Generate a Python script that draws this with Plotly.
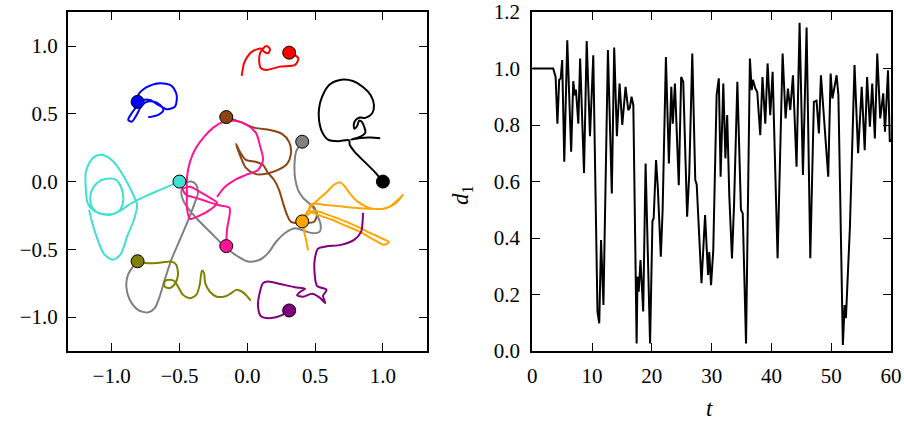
import plotly.graph_objects as go

# ---------------- left panel: particle trajectories (x, y) ----------------
traj_red = [(0.31, 0.954), (0.376, 0.91), (0.352, 0.861), (0.241, 0.848), (0.143, 0.824), (0.101, 0.836),
            (0.088, 0.885), (0.094, 0.947), (0.118, 0.984), (0.143, 1.0), (0.167, 0.976), (0.155, 0.947),
            (0.123, 0.959), (0.105, 0.98), (0.07, 0.975), (0.03, 0.955), (0.0, 0.92), (-0.025, 0.87),
            (-0.035, 0.82), (-0.041, 0.78)]
traj_blue = [(-0.811, 0.59), (-0.804, 0.639), (-0.742, 0.696), (-0.644, 0.726), (-0.558, 0.706), (-0.521, 0.639),
             (-0.533, 0.553), (-0.594, 0.534), (-0.656, 0.566), (-0.718, 0.602), (-0.767, 0.602), (-0.804, 0.566),
             (-0.853, 0.504), (-0.878, 0.455), (-0.853, 0.442), (-0.816, 0.492), (-0.791, 0.541), (-0.754, 0.583),
             (-0.693, 0.59), (-0.644, 0.566), (-0.619, 0.529), (-0.656, 0.492), (-0.73, 0.475)]
traj_black = [(1.0, 0.0), (0.939, 0.072), (0.865, 0.145), (0.792, 0.219), (0.755, 0.273), (0.75, 0.305),
              (0.669, 0.298), (0.595, 0.31), (0.551, 0.367), (0.529, 0.453), (0.529, 0.539), (0.551, 0.625),
              (0.607, 0.716), (0.693, 0.752), (0.779, 0.742), (0.853, 0.698), (0.91, 0.637), (0.934, 0.563),
              (0.92, 0.502), (0.87, 0.47), (0.83, 0.472), (0.80, 0.455), (0.785, 0.42), (0.79, 0.39),
              (0.81, 0.41), (0.825, 0.45), (0.845, 0.44), (0.87, 0.36), (0.82, 0.325), (0.765, 0.31),
              (0.83, 0.322), (0.91, 0.325), (0.98, 0.32)]
traj_brown = [(-0.157, 0.477), (-0.054, 0.44), (0.057, 0.396), (0.167, 0.381), (0.256, 0.352), (0.308, 0.293),
              (0.322, 0.212), (0.293, 0.131), (0.226, 0.086), (0.138, 0.057), (0.057, 0.057), (-0.01, 0.101),
              (-0.046, 0.175), (-0.069, 0.234), (-0.083, 0.278), (-0.054, 0.219), (-0.01, 0.16), (0.064, 0.145),
              (0.116, 0.123), (0.153, 0.064), (0.197, 0.013), (0.234, -0.061), (0.263, -0.157), (0.293, -0.246),
              (0.322, -0.297), (0.411, -0.305), (0.492, -0.297), (0.514, -0.238), (0.485, -0.179)]
traj_gray = [(0.403, 0.293), (0.359, 0.219), (0.348, 0.123), (0.352, 0.027), (0.374, -0.061), (0.411, -0.12),
             (0.46, -0.164), (0.497, -0.209), (0.521, -0.26), (0.541, -0.319), (0.534, -0.369), (0.484, -0.381),
             (0.435, -0.369), (0.35, -0.344), (0.276, -0.381), (0.214, -0.442), (0.153, -0.528), (0.091, -0.577),
             (0.005, -0.59), (-0.069, -0.553), (-0.167, -0.479), (-0.265, -0.381), (-0.364, -0.282),
             (-0.437, -0.196), (-0.474, -0.135), (-0.487, -0.074), (-0.462, -0.012), (-0.413, 0.0),
             (-0.376, -0.024), (-0.364, -0.086), (-0.388, -0.159), (-0.425, -0.258), (-0.487, -0.406),
             (-0.56, -0.577), (-0.609, -0.725), (-0.646, -0.848), (-0.683, -0.934), (-0.732, -0.966),
             (-0.806, -0.946), (-0.867, -0.872), (-0.892, -0.774), (-0.88, -0.688), (-0.843, -0.627),
             (-0.819, -0.59)]
traj_turquoise = [(-0.501, 0.0), (-0.642, -0.061), (-0.754, -0.109), (-0.85, -0.157), (-0.939, -0.216),
                  (-1.013, -0.246), (-1.101, -0.231), (-1.153, -0.172), (-1.153, -0.083), (-1.108, -0.01),
                  (-1.042, 0.02), (-0.968, 0.013), (-0.924, -0.061), (-0.917, -0.157), (-0.953, -0.223),
                  (-1.027, -0.242), (-1.116, -0.223), (-1.175, -0.164), (-1.19, -0.061), (-1.19, 0.072),
                  (-1.145, 0.167), (-1.086, 0.197), (-1.02, 0.175), (-0.961, 0.116), (-0.909, 0.035),
                  (-0.858, -0.061), (-0.813, -0.172), (-0.836, -0.282), (-0.887, -0.408), (-0.932, -0.533),
                  (-0.99, -0.577), (-1.057, -0.533), (-1.123, -0.371), (-1.167, -0.209)]
traj_pink = [(-0.155, -0.476), (-0.15, -0.356), (-0.131, -0.194), (-0.201, -0.176), (-0.29, -0.15),
             (-0.378, -0.12), (-0.452, -0.098), (-0.474, -0.054), (-0.423, -0.039), (-0.349, -0.076),
             (-0.275, -0.12), (-0.223, -0.157), (-0.275, -0.209), (-0.356, -0.253), (-0.423, -0.275),
             (-0.445, -0.194), (-0.445, -0.098), (-0.445, 0.027), (-0.423, 0.145), (-0.378, 0.249),
             (-0.319, 0.33), (-0.253, 0.396), (-0.179, 0.44), (-0.091, 0.448), (-0.002, 0.418), (0.064, 0.359),
             (0.094, 0.263), (0.116, 0.16), (0.079, 0.086), (-0.01, 0.049), (-0.091, 0.013), (-0.164, -0.039),
             (-0.223, -0.113)]
traj_orange = [(0.403, -0.29), (0.462, -0.194), (0.521, -0.135), (0.58, -0.083), (0.639, -0.024), (0.684, -0.006),
               (0.721, -0.039), (0.758, -0.091), (0.816, -0.15), (0.89, -0.19), (0.964, -0.205), (1.045, -0.187),
               (1.111, -0.135), (1.148, -0.098), (1.097, -0.157), (1.016, -0.198), (0.905, -0.201),
               (0.794, -0.194), (0.684, -0.183), (0.573, -0.172), (0.477, -0.164), (0.455, -0.209),
               (0.521, -0.246), (0.625, -0.282), (0.728, -0.327), (0.831, -0.371), (0.934, -0.43),
               (1.008, -0.467), (1.045, -0.445), (1.008, -0.426), (0.92, -0.386), (0.816, -0.334),
               (0.713, -0.29), (0.595, -0.246), (0.492, -0.216), (0.426, -0.268), (0.418, -0.356),
               (0.433, -0.43), (0.448, -0.507)]
traj_olive = [(-0.811, -0.59), (-0.732, -0.602), (-0.634, -0.597), (-0.56, -0.59), (-0.524, -0.614),
              (-0.511, -0.688), (-0.531, -0.749), (-0.572, -0.786), (-0.609, -0.774), (-0.609, -0.737),
              (-0.572, -0.725), (-0.535, -0.737), (-0.511, -0.774), (-0.474, -0.836), (-0.425, -0.86),
              (-0.376, -0.836), (-0.351, -0.762), (-0.334, -0.656), (-0.319, -0.676), (-0.31, -0.749),
              (-0.277, -0.811), (-0.229, -0.848), (-0.167, -0.848), (-0.118, -0.823), (-0.083, -0.799),
              (-0.041, -0.811), (-0.004, -0.843), (0.025, -0.878)]
traj_purple = [(0.31, -0.95), (0.251, -0.987), (0.177, -1.007), (0.103, -0.996), (0.079, -0.922), (0.091, -0.823),
               (0.116, -0.749), (0.153, -0.737), (0.251, -0.758), (0.35, -0.779), (0.426, -0.791), (0.389, -0.814),
               (0.367, -0.839), (0.411, -0.85), (0.477, -0.828), (0.536, -0.858), (0.575, -0.897), (0.558, -0.843),
               (0.584, -0.799), (0.514, -0.769), (0.496, -0.673), (0.497, -0.577), (0.521, -0.496), (0.58, -0.479),
               (0.691, -0.467), (0.787, -0.43), (0.839, -0.371), (0.85, -0.297), (0.853, -0.231)]

particle_paths = [traj_red, traj_blue, traj_black, traj_brown, traj_gray,
                  traj_turquoise, traj_pink, traj_orange, traj_olive, traj_purple]
particle_colors = ["#ff0000", "#0000ff", "#000000", "#8b4513", "#808080",
                   "#40e0d0", "#ff1493", "#ffa500", "#808000", "#800080"]

# starting positions (markers)
start_x = [0.309, -0.809, 1.0, -0.155, 0.405, -0.5, -0.155, 0.405, -0.809, 0.309]
start_y = [0.951, 0.588, 0.0, 0.476, 0.294, 0.0, -0.476, -0.294, -0.588, -0.951]

# ---------------- right panel: d_1(t) ----------------
t_vals = [0, 3.5, 3.9, 4.2, 4.5, 4.75, 5.0, 5.35, 5.85, 6.5, 6.85, 7.1, 7.3, 7.7, 8.0, 8.65, 9.1, 9.65,
          10.2, 10.9, 11.2, 11.5, 11.9, 12.15, 12.65, 13.3, 13.7, 14.15, 14.6, 15.05, 15.6, 16.05, 16.3,
          16.6, 16.9, 17.45, 17.6, 17.8, 18.1, 18.55, 18.95, 19.7, 20.1, 20.3, 20.7, 21.0, 21.5, 21.8,
          22.35, 22.85, 23.25, 23.5, 23.86, 24.5, 24.9, 25.25, 25.9, 26.26, 26.76, 27.26, 27.5, 28.3,
          28.9, 29.4, 29.6, 29.9, 30.27, 30.83, 31.2, 31.5, 31.95, 32.3, 32.6, 32.95, 33.4, 33.75, 34.3,
          34.9, 35.2, 35.75, 36.4, 36.7, 36.9, 37.3, 37.63, 38.13, 38.5, 38.97, 39.36, 39.8, 40.2, 41.03,
          41.87, 42.37, 42.76, 43.15, 43.6, 44.2, 44.71, 45.27, 45.88, 46.5, 47.1, 47.55, 47.94, 48.28,
          48.84, 49.5, 49.9, 50.2, 50.45, 50.9, 51.2, 51.95, 52.24, 52.46, 53.13, 53.9, 54.5, 55.1,
          55.6, 56.0, 56.47, 56.86, 57.3, 57.7, 58.2, 58.7, 59.0, 59.5, 59.8, 60.0]
d_vals = [1.0, 1.0, 0.97, 0.805, 0.96, 0.965, 1.03, 0.67, 1.10, 0.705, 0.955, 0.905, 0.925, 0.805, 1.035,
          0.63, 1.097, 0.76, 1.047, 0.14, 0.098, 0.393, 0.163, 0.44, 1.065, 0.558, 1.074, 0.76, 0.947,
          0.80, 0.935, 0.853, 0.86, 0.90, 0.87, 0.027, 0.263, 0.21, 0.322, 0.14, 0.664, 0.027, 0.46, 0.47,
          0.676, 0.575, 0.334, 0.50, 1.041, 0.664, 0.935, 0.805, 0.947, 0.587, 0.97, 0.953, 0.475, 0.63,
          1.053, 0.605, 0.59, 0.24, 0.481, 0.269, 0.35, 0.233, 0.357, 0.906, 0.965, 0.617, 0.947, 0.682,
          0.835, 0.55, 0.328, 0.52, 0.953, 0.5, 0.487, 0.027, 1.035, 0.923, 0.96, 0.93, 0.917, 0.764,
          0.97, 0.805, 1.018, 0.835, 0.988, 0.328, 1.053, 0.823, 0.929, 0.853, 0.976, 0.652, 1.162,
          0.623, 1.145, 0.328, 0.882, 0.886, 0.77, 0.976, 0.817, 0.617, 0.982, 0.894, 0.923, 0.976,
          0.906, 0.021, 0.163, 0.116, 0.44, 1.012, 0.7, 0.935, 0.711, 0.97, 0.794, 0.947, 0.752, 1.053,
          0.823, 0.912, 0.776, 0.994, 0.74, 0.75]

# tick labels
left_tickvals = [-1.0, -0.5, 0.0, 0.5, 1.0]
left_ticktext = ["\u22121.0", "\u22120.5", "0.0", "0.5", "1.0"]
right_xtickvals = [0, 10, 20, 30, 40, 50, 60]
right_xticktext = ["0", "10", "20", "30", "40", "50", "60"]
right_ytickvals = [0.0, 0.2, 0.4, 0.6, 0.8, 1.0, 1.2]
right_yticktext = ["0.0", "0.2", "0.4", "0.6", "0.8", "1.0", "1.2"]

FONT = "Liberation Serif"

fig = go.Figure()
for path, col in zip(particle_paths, particle_colors):
    fig.add_trace(go.Scatter(x=[p[0] for p in path], y=[p[1] for p in path], mode="lines",
                             line=dict(color=col, width=2, shape="spline", smoothing=0.8),
                             xaxis="x", yaxis="y", showlegend=False, hoverinfo="skip"))
fig.add_trace(go.Scatter(x=start_x, y=start_y, mode="markers",
                         marker=dict(size=13, color=particle_colors, line=dict(color="black", width=1)),
                         xaxis="x", yaxis="y", showlegend=False, hoverinfo="skip"))
fig.add_trace(go.Scatter(x=t_vals, y=d_vals, mode="lines", line=dict(color="black", width=2),
                         xaxis="x2", yaxis="y2", showlegend=False, hoverinfo="skip"))

axis_common = dict(showgrid=False, zeroline=False, showline=True, linecolor="black", linewidth=2,
                   mirror="allticks", ticks="inside", ticklen=8, tickwidth=1, tickcolor="black",
                   automargin=False,
                   tickfont=dict(family=FONT, size=21, color="black"))

fig.update_layout(
    template="none",
    width=904, height=425, margin=dict(l=0, r=0, t=0, b=0, pad=0), autosize=False,
    paper_bgcolor="white", plot_bgcolor="white",
    xaxis=dict(domain=[68 / 904, 427 / 904], range=[-1.322, 1.325], tickvals=left_tickvals,
               ticktext=left_ticktext, anchor="y", ticklabelstandoff=5, **axis_common),
    yaxis=dict(domain=[74 / 425, 413 / 425], range=[-1.25, 1.251], tickvals=left_tickvals,
               ticktext=left_ticktext, anchor="x", ticklabelstandoff=4, **axis_common),
    xaxis2=dict(domain=[532.3 / 904, 891 / 904], range=[0, 60], tickvals=right_xtickvals,
                ticktext=right_xticktext, anchor="y2", ticklabelstandoff=5, **axis_common),
    yaxis2=dict(domain=[74 / 425, 413 / 425], range=[0, 1.2], tickvals=right_ytickvals,
                ticktext=right_yticktext, anchor="x2", ticklabelstandoff=6, **axis_common),
    annotations=[
        dict(text="<i>t</i>", xref="paper", yref="paper", x=709 / 904, y=(425 - 408) / 425,
             xanchor="center", yanchor="middle",
             showarrow=False, font=dict(family=FONT, size=23, color="black")),
        dict(text="<i>d</i><sub>1</sub>", xref="paper", yref="paper", x=462 / 904, y=(425 - 195) / 425,
             xanchor="center", yanchor="middle",
             showarrow=False, textangle=-90, font=dict(family=FONT, size=23, color="black")),
    ],
)

fig.write_html("out.html")
